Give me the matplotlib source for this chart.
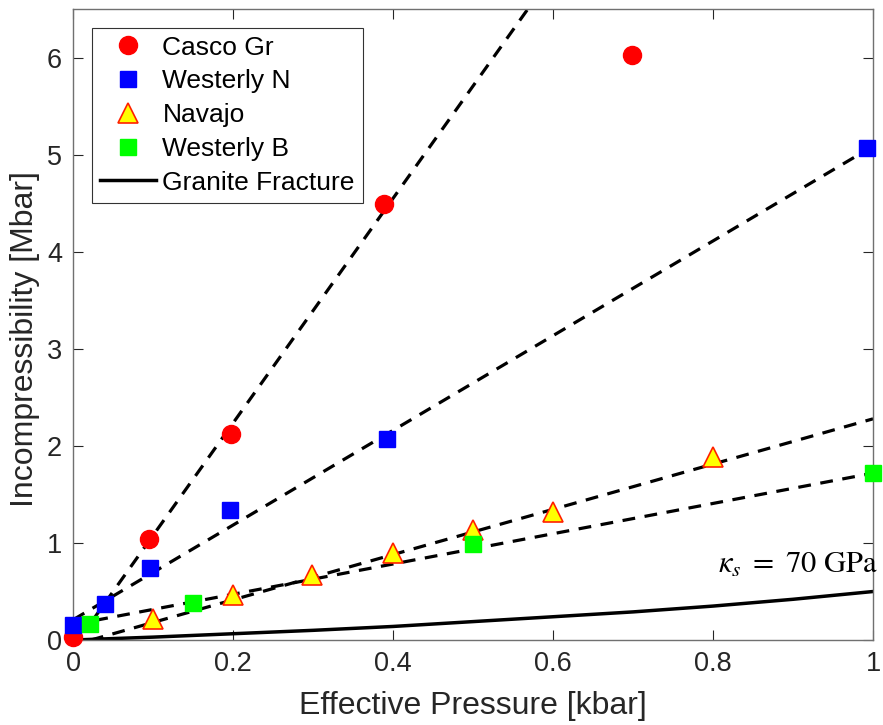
import numpy as np
import matplotlib.pyplot as plt

plt.rcParams["font.family"] = ["Liberation Sans", "DejaVu Sans"]
plt.rcParams["mathtext.fontset"] = "stix"

# Data
casco_x = [0.0, 0.095, 0.197, 0.389, 0.698]
casco_y = [0.03, 1.04, 2.12, 4.49, 6.03]

westN_x = [0.0, 0.04, 0.096, 0.196, 0.392, 0.993]
westN_y = [0.155, 0.37, 0.74, 1.34, 2.07, 5.07]

navajo_x = [0.1, 0.2, 0.298, 0.4, 0.5, 0.6, 0.8]
navajo_y = [0.22, 0.46, 0.67, 0.90, 1.13, 1.32, 1.89]

westB_x = [0.021, 0.15, 0.5, 1.0]
westB_y = [0.165, 0.38, 0.99, 1.72]

granite_x = [0.0, 0.1, 0.2, 0.3, 0.4, 0.5, 0.6, 0.7, 0.8, 0.9, 1.0]
granite_y = [0.0, 0.03, 0.065, 0.10, 0.14, 0.19, 0.24, 0.29, 0.35, 0.42, 0.50]

# dashed fit lines (end points)
casco_fit_x = [0.023, 0.6]
casco_fit_y = [0.19, 6.87]
westN_fit_x = [0.0, 1.0]
westN_fit_y = [0.21, 5.09]
navajo_fit_x = [0.022, 1.0]
navajo_fit_y = [0.0, 2.28]
westB_fit_x = [0.0, 1.0]
westB_fit_y = [0.16, 1.72]

text_col = "#262626"

fig = plt.figure(figsize=(8.83, 7.25), dpi=100)
ax = fig.add_axes([0.083, 0.1172, 0.9057, 0.8698])

dash = dict(color="black", lw=2.3, dashes=(4, 3), zorder=2)
for fx, fy in [(casco_fit_x, casco_fit_y), (westN_fit_x, westN_fit_y),
               (navajo_fit_x, navajo_fit_y), (westB_fit_x, westB_fit_y)]:
    ax.plot(fx, fy, **dash)

ax.plot(casco_x, casco_y, "o", color="#ff0000", ms=13, mec="#ff0000",
        label="Casco Gr", zorder=3, clip_on=False)
ax.plot(westN_x, westN_y, "s", color="#0000ff", ms=11, mec="#0000ff",
        label="Westerly N", zorder=3, clip_on=False)
ax.plot(navajo_x, navajo_y, "^", mfc="#ffff00", mec="#ff2000", mew=1.2,
        ms=14, label="Navajo", zorder=3, clip_on=False)
ax.plot(westB_x, westB_y, "s", color="#00ff00", ms=11, mec="#00ff00",
        label="Westerly B", zorder=3, clip_on=False)
ax.plot(granite_x, granite_y, "-", color="black", lw=2.5,
        label="Granite Fracture", zorder=2)

ax.text(0.806, 0.69, r"$\kappa_s\ =\ 70\ \mathrm{GPa}$", fontsize=22,
        ha="left", va="baseline", clip_on=False)

ax.set_xlim(0, 1)
ax.set_ylim(0, 6.5)
ax.set_xticks([0, 0.2, 0.4, 0.6, 0.8, 1])
ax.set_xticklabels(["0", "0.2", "0.4", "0.6", "0.8", "1"])
ax.set_yticks(range(7))

ax.tick_params(direction="in", length=7, width=0.8, top=True, right=True,
               labelsize=19.5, colors=text_col, pad=8)
for s in ax.spines.values():
    s.set_color("#707070")
    s.set_linewidth(1.0)

ax.set_xlabel("Effective Pressure [kbar]", fontsize=23, color=text_col,
              labelpad=10)
ax.set_ylabel("Incompressibility [Mbar]", fontsize=23, color=text_col)
ax.yaxis.set_label_coords(-0.041, 0.478)

leg = ax.legend(loc="upper left", bbox_to_anchor=(0.024, 0.971), fontsize=19,
                frameon=True, fancybox=False, edgecolor="black",
                borderaxespad=0, handlelength=2.1, labelspacing=0.37,
                borderpad=0.3, handletextpad=0.25)
leg.get_frame().set_linewidth(0.8)

fig.savefig("out.png", dpi=100)
